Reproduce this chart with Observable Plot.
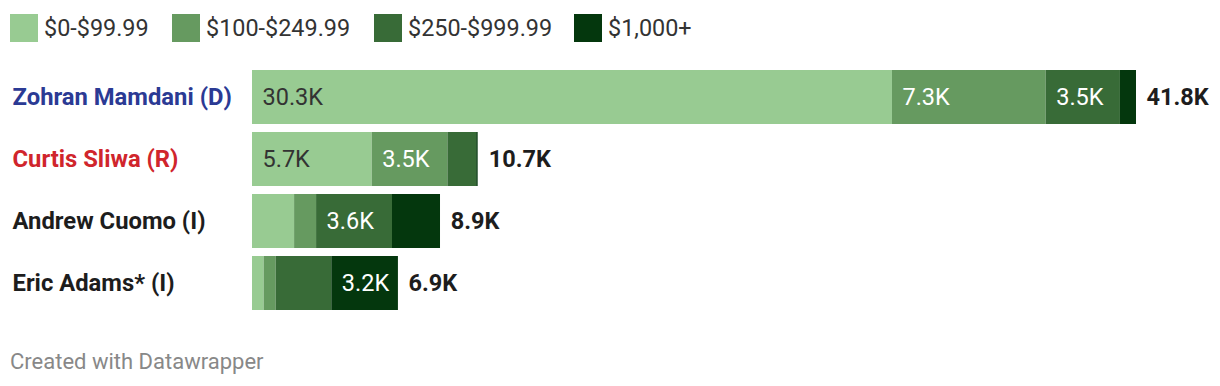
<!DOCTYPE html>
<html>
<head>
<meta charset="utf-8">
<script src="https://cdn.jsdelivr.net/npm/d3@7"></script>
<script src="https://cdn.jsdelivr.net/npm/@observablehq/plot@0.6"></script>
<style>
  html, body { margin: 0; padding: 0; background: #fff; }
  body { font-family: Roboto, "Noto Sans", sans-serif; width: 1220px; height: 386px; overflow: hidden; }
  #legend { height: 56px; position: relative; }
  .item { position: absolute; top: 14px; height: 28px; display: flex; align-items: center; }
  .sw { width: 28px; height: 28px; margin-right: 6px; }
  .lab { font-size: 23.4px; color: #333; line-height: 28px; }
  #footer { font-size: 22px; line-height: 26px; color: #888; margin: 23px 0 0 10px; }
</style>
</head>
<body>
<div id="legend"></div>
<div id="chart"></div>
<div id="footer">Created with Datawrapper</div>
<script>
const candidates = ["Zohran Mamdani (D)", "Curtis Sliwa (R)", "Andrew Cuomo (I)", "Eric Adams* (I)"];
const nameColors = ["#2b3a94", "#d0252c", "#1d1d1d", "#1d1d1d"];
const brackets = ["$0-$99.99", "$100-$249.99", "$250-$999.99", "$1,000+"];
const bracketColors = ["#98cb92", "#669a60", "#386b37", "#04370d"];
// values in thousands of contributions
const under100 = [30.26, 5.66, 1.99, 0.55];
const from100to250 = [7.27, 3.58, 1.04, 0.57];
const from250to1000 = [3.51, 1.36, 3.59, 2.63];
const over1000 = [0.76, 0.07, 2.27, 3.15];
const totals = [41.8, 10.7, 8.9, 6.9];
// segment labels shown in the chart
const segLabels = [
  ["30.3K", "7.3K", "3.5K", ""],
  ["5.7K", "3.5K", "", ""],
  ["", "", "3.6K", ""],
  ["", "", "", "3.2K"]
];

const series = [under100, from100to250, from250to1000, over1000];
const rows = [];
candidates.forEach((name, i) => {
  brackets.forEach((b, j) => {
    rows.push({name, bracket: b, value: series[j][i], label: segLabels[i][j]});
  });
});
const totalRows = candidates.map((name, i) => ({name, total: totals[i]}));

// legend
const legend = document.getElementById("legend");
const legendX = [10, 172, 374, 574];
brackets.forEach((b, j) => {
  const it = document.createElement("div");
  it.className = "item";
  it.style.left = legendX[j] + "px";
  it.innerHTML = `<div class="sw" style="background:${bracketColors[j]}"></div><span class="lab">${b}</span>`;
  legend.appendChild(it);
});

const textBase = {fontSize: 23.5, lineAnchor: "middle"};

const chart = Plot.plot({
  width: 1220,
  height: 270,
  marginLeft: 252,
  marginRight: 84,
  marginTop: 14,
  marginBottom: 16,
  style: {fontFamily: "Roboto, sans-serif", fontSize: "23.5px", background: "white"},
  x: {axis: null},
  y: {axis: null, domain: candidates, paddingInner: 8 / 62, paddingOuter: 0},
  color: {domain: brackets, range: bracketColors},
  marks: [
    Plot.barX(rows, {x: "value", y: "name", fill: "bracket", order: brackets}),
    Plot.text(rows, Plot.stackX1({
      x: "value", y: "name", z: "bracket", order: brackets,
      text: d => d.bracket === brackets[0] ? d.label : "",
      fill: "#333", textAnchor: "start", dx: 10, ...textBase
    })),
    Plot.text(rows, Plot.stackX1({
      x: "value", y: "name", z: "bracket", order: brackets,
      text: d => d.bracket !== brackets[0] ? d.label : "",
      fill: "#ffffff", textAnchor: "start", dx: 10, ...textBase
    })),
    Plot.text(totalRows, {
      x: "total", y: "name", text: d => d.total.toFixed(1) + "K",
      fill: "#1d1d1d", fontWeight: "bold", textAnchor: "start", dx: 10, ...textBase
    }),
    ...candidates.map((c, i) => Plot.text([c], {
      y: d => d, text: d => d, frameAnchor: "left", textAnchor: "start", dx: -240,
      fill: nameColors[i], fontWeight: "bold", fontSize: 23.8, lineAnchor: "middle"
    }))
  ]
});
document.getElementById("chart").appendChild(chart);
</script>
</body>
</html>
